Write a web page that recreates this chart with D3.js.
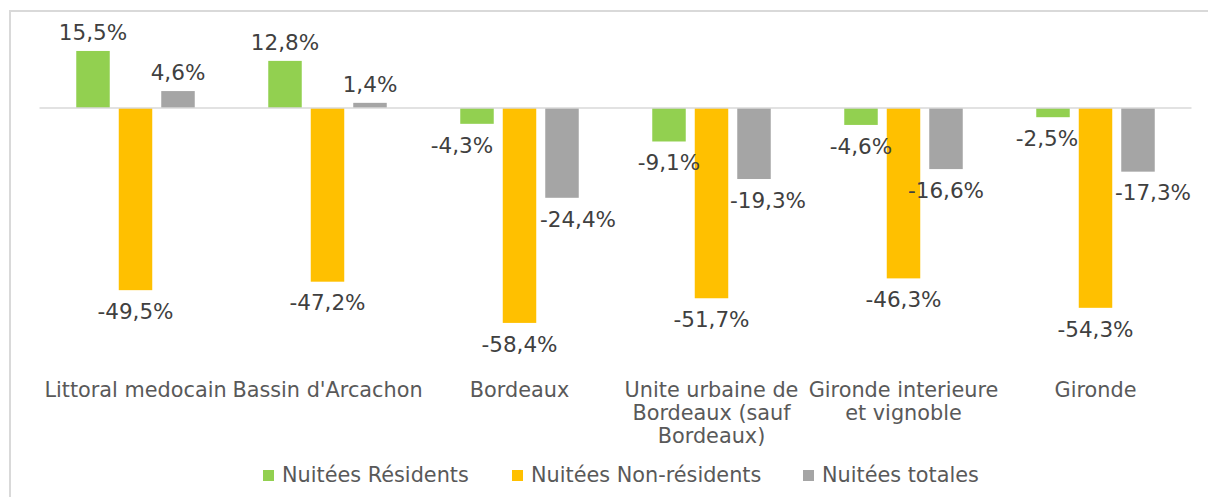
<!DOCTYPE html>
<html>
<head>
<meta charset="utf-8">
<script src="https://cdn.jsdelivr.net/npm/d3@7"></script>
<style>
  html, body { margin: 0; padding: 0; background: #ffffff; }
  svg { display: block; font-family: "DejaVu Sans", Verdana, sans-serif; }
</style>
</head>
<body>
<svg id="chart" width="1208" height="497"></svg>
<script>
// ---- data ----
const categories = [
  "Littoral medocain",
  "Bassin d'Arcachon",
  "Bordeaux",
  "Unite urbaine de\nBordeaux (sauf\nBordeaux)",
  "Gironde interieure\net vignoble",
  "Gironde"
];
const seriesNames = ["Nuitées Résidents", "Nuitées Non-résidents", "Nuitées totales"];
const residents    = [15.5, 12.8, -4.3, -9.1, -4.6, -2.5];
const nonResidents = [-49.5, -47.2, -58.4, -51.7, -46.3, -54.3];
const totals       = [4.6, 1.4, -24.4, -19.3, -16.6, -17.3];
const seriesValues = [residents, nonResidents, totals];

// ---- styles ----
const colors = ["#92d050", "#ffc000", "#a5a5a5"];
// manual label nudges (series index - category index -> px)
const labelNudge = { "0-2": -15, "0-5": -6, "2-2": 16, "2-3": 14, "2-5": 15 };

const svg = d3.select("#chart");

// chart border
svg.append("rect")
  .attr("x", 10).attr("y", 11)
  .attr("width", 1230).attr("height", 520)
  .attr("fill", "none").attr("stroke", "#d9d9d9").attr("stroke-width", 2);

const plotLeft = 39.5, plotRight = 1191.5;
const x0 = d3.scaleBand().domain(categories).range([plotLeft, plotRight]).paddingInner(0).paddingOuter(0);
const bw = x0.bandwidth();
const x1 = d3.scaleBand().domain(d3.range(3))
  .range([bw / 2 - 63.75, bw / 2 + 63.75])
  .paddingInner(0.212).paddingOuter(0.106);
const y = d3.scaleLinear().domain([-70, 20]).range([365.6, 34.4]);

const fmt = v => d3.format(".1f")(v).replace(".", ",").replace("−", "-") + "%";

// bars
seriesValues.forEach((vals, si) => {
  svg.append("g").selectAll("rect")
    .data(vals)
    .join("rect")
    .attr("x", (d, i) => x0(categories[i]) + x1(si))
    .attr("width", x1.bandwidth())
    .attr("y", d => y(Math.max(0, d)))
    .attr("height", d => Math.abs(y(d) - y(0)))
    .attr("fill", colors[si]);
});

// zero line
svg.append("line")
  .attr("x1", plotLeft).attr("x2", plotRight)
  .attr("y1", y(0)).attr("y2", y(0))
  .attr("stroke", "#d9d9d9").attr("stroke-width", 1.5);

// data labels
seriesValues.forEach((vals, si) => {
  svg.append("g").selectAll("text")
    .data(vals)
    .join("text")
    .attr("x", (d, i) => x0(categories[i]) + x1(si) + x1.bandwidth() / 2 + (labelNudge[si + "-" + i] || 0))
    .attr("y", d => d >= 0 ? y(d) - 19 : y(d) + 21)
    .attr("dy", "0.36em")
    .attr("text-anchor", "middle")
    .attr("font-size", 21.5)
    .attr("fill", "#404040")
    .text(d => fmt(d));
});

// category labels
const catG = svg.append("g");
categories.forEach(c => {
  const t = catG.append("text")
    .attr("x", x0(c) + bw / 2)
    .attr("y", 390)
    .attr("text-anchor", "middle")
    .attr("font-size", 20.8)
    .attr("fill", "#595959");
  c.split("\n").forEach((line, li) => {
    t.append("tspan")
      .attr("x", x0(c) + bw / 2)
      .attr("dy", li === 0 ? "0.36em" : 23)
      .text(line);
  });
});

// legend
const legendX = [263, 512, 803];
const legend = svg.append("g");
seriesNames.forEach((name, i) => {
  legend.append("rect")
    .attr("x", legendX[i]).attr("y", 470)
    .attr("width", 11).attr("height", 11)
    .attr("fill", colors[i]);
  legend.append("text")
    .attr("x", legendX[i] + 19).attr("y", 475)
    .attr("dy", "0.36em")
    .attr("font-size", 20.8)
    .attr("fill", "#595959")
    .text(name);
});
</script>
</body>
</html>
